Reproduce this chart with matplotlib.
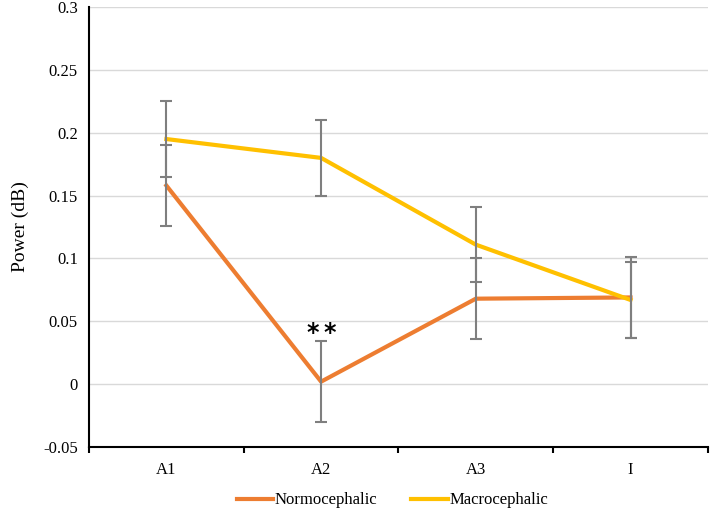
import numpy as np
import matplotlib.pyplot as plt

plt.rcParams['font.family'] = ['Liberation Serif', 'DejaVu Serif']

# Data
categories = ['A1', 'A2', 'A3', 'I']
normo = [0.158, 0.002, 0.068, 0.069]
normo_err = [0.032, 0.032, 0.032, 0.032]
macro = [0.195, 0.180, 0.111, 0.067]
macro_err = [0.030, 0.030, 0.030, 0.030]

x = np.arange(len(categories)) + 0.5

fig = plt.figure(figsize=(7.1, 5.11), dpi=100)
ax = fig.add_axes([0.1254, 0.1252, 0.8716, 0.8610])

err_kw = dict(fmt='none', ecolor='#7F7F7F', elinewidth=1.5, capsize=4.5, capthick=1.5)

ax.plot(x, normo, color='#ED7D31', lw=3, label='Normocephalic', zorder=3)
ax.errorbar(x, normo, yerr=normo_err, zorder=4, **err_kw)
ax.plot(x, macro, color='#FFC000', lw=3, label='Macrocephalic', zorder=5)
ax.errorbar(x, macro, yerr=macro_err, zorder=6, **err_kw)

# significance marker over A2 (two asterisks with a small gap)
ax.annotate('*', (x[1], normo[1] + normo_err[1] + 0.007), xytext=(-6, 0),
            textcoords='offset points', ha='center', va='center',
            fontsize=17, fontweight='bold', family='DejaVu Sans')
ax.annotate('*', (x[1], normo[1] + normo_err[1] + 0.007), xytext=(6, 0),
            textcoords='offset points', ha='center', va='center',
            fontsize=17, fontweight='bold', family='DejaVu Sans')

ax.set_xlim(0, 4)
ax.set_ylim(-0.05, 0.3)
ax.set_yticks(np.arange(-0.05, 0.301, 0.05))
ax.set_yticklabels(['-0.05', '0', '0.05', '0.1', '0.15', '0.2', '0.25', '0.3'])
ax.set_xticks(x)
ax.set_xticklabels(categories)
ax.set_xticks(np.arange(0, 5), minor=True)
ax.tick_params(axis='x', which='major', length=0, pad=11, labelsize=12)
ax.tick_params(axis='x', which='minor', length=4, width=1.5, color='black', direction='out')
ax.tick_params(axis='y', length=0, pad=8, labelsize=12)

ax.grid(axis='y', color='#D9D9D9', lw=1)
ax.set_axisbelow(True)
for s in ['top', 'right']:
    ax.spines[s].set_visible(False)
ax.spines['left'].set_linewidth(1.5)
ax.spines['bottom'].set_linewidth(1.5)

ax.set_ylabel('Power (dB)', fontsize=14, labelpad=10)

ax.legend(loc='upper center', bbox_to_anchor=(0.49, -0.088), ncol=2, frameon=False,
          fontsize=12, handlelength=2.2, handletextpad=0.1, columnspacing=2.0,
          borderaxespad=0)

fig.savefig('out.png', dpi=100)
